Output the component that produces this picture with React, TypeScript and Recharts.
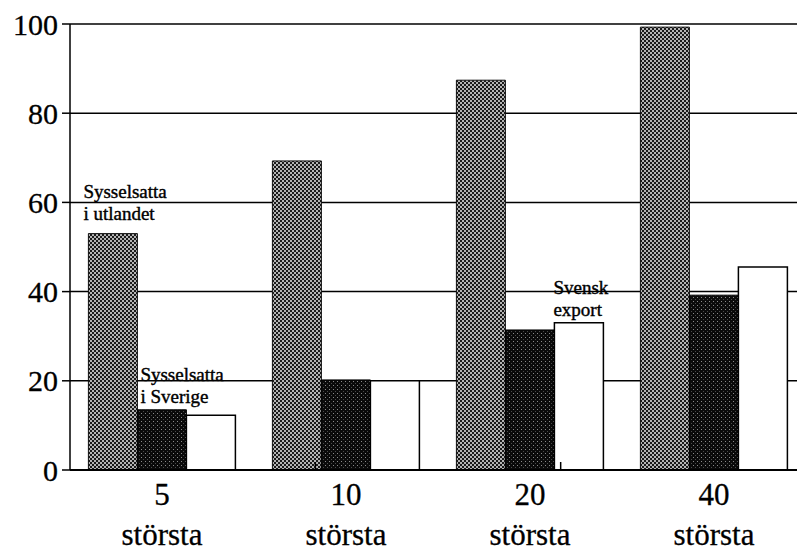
import { BarChart, Bar, XAxis, YAxis, CartesianGrid, LabelList } from "recharts";

// antal största koncerner
const categories = ["5", "10", "20", "40"];
const categorySuffix = "största";

const utlandet = [53, 69.3, 87.4, 99.3];
const sverige = [13.5, 20.2, 31.4, 39.2];
const svenskExport = [12.3, 20, 33, 45.5];

const yTicks = [0, 20, 40, 60, 80, 100];
const edgeTicks = [1, 2, 3];

const noteUtlandet = ["Sysselsatta", "i utlandet"];
const noteSverige = ["Sysselsatta", "i Sverige"];
const noteExport = ["Svensk", "export"];

const data = categories.map((c, i) => ({
  name: c,
  utlandet: utlandet[i],
  sverige: sverige[i],
  export: svenskExport[i],
}));

const FONT = "'Liberation Serif', 'Times New Roman', serif";

function note(lines: string[], atIndex: number, dx: number, dy: number) {
  return (props: any) => {
    if (props.index !== atIndex) return <g />;
    const vb = props.viewBox ?? props;
    const x = Number(vb.x ?? props.x) + dx;
    const y = Number(vb.y ?? props.y) + dy;
    return (
      <text x={x} y={y} fontFamily={FONT} fontSize={19} fill="#000" stroke="#000" strokeWidth={0.4}>
        {lines.map((l, k) => (
          <tspan key={k} x={x} dy={k === 0 ? 0 : 22}>{l}</tspan>
        ))}
      </text>
    );
  };
}

function CategoryTick({ x, y, payload }: any) {
  return (
    <text x={x} y={y} textAnchor="middle" fontFamily={FONT} fontSize={31} fill="#000" stroke="#000" strokeWidth={0.3}>
      <tspan x={x} dy={35}>{payload.value}</tspan>
      <tspan x={x} dy={40}>{categorySuffix}</tspan>
    </text>
  );
}

export default function App() {
  return (
    <div style={{ position: "fixed", left: 0, top: 0, width: 797, height: 551, overflow: "hidden", background: "#fff" }}>
      <BarChart width={830} height={551} data={data}
        margin={{ top: 24, right: 24, bottom: 0, left: 0 }}
        barCategoryGap="10%" barGap={0}>
        <defs>
          <pattern id="dots" width="4" height="4" patternUnits="userSpaceOnUse">
            <rect width="4" height="4" fill="#b4b4b4" />
            <rect x="0" y="0" width="2" height="2" fill="#1a1a1a" />
            <rect x="2" y="2" width="2" height="2" fill="#1a1a1a" />
          </pattern>
          <pattern id="dark" width="4" height="4" patternUnits="userSpaceOnUse">
            <rect width="4" height="4" fill="#0a0a0a" />
            <rect x="1" y="1" width="1" height="1" fill="#8a8a8a" />
            <rect x="3" y="3" width="1" height="1" fill="#4a4a4a" />
          </pattern>
        </defs>
        <CartesianGrid vertical={false} stroke="#000" strokeWidth={1.5} />
        <XAxis xAxisId="edges" type="number" domain={[0, 4]} ticks={edgeTicks}
          allowDataOverflow mirror axisLine={false}
          tickLine={{ stroke: "#000", strokeWidth: 1.5 }} tickSize={8}
          tick={() => <g />} />
        <XAxis dataKey="name" height={81} tickLine={false} tickSize={0} tickMargin={0}
          axisLine={{ stroke: "#000", strokeWidth: 2 }} tick={<CategoryTick />} interval={0} />
        <YAxis width={70} domain={[0, 100]} ticks={yTicks} interval={0}
          axisLine={{ stroke: "#000", strokeWidth: 1.5 }}
          tickLine={{ stroke: "#000", strokeWidth: 1.5 }} tickSize={8} tickMargin={4}
          tick={{ fontSize: 30, fill: "#000", fontFamily: FONT, stroke: "#000", strokeWidth: 0.3 }} />
        <Bar dataKey="utlandet" fill="url(#dots)" stroke="#111" strokeWidth={1} isAnimationActive={false}>
          <LabelList content={note(noteUtlandet, 0, -5, -36)} />
        </Bar>
        <Bar dataKey="sverige" fill="url(#dark)" stroke="#000" strokeWidth={1} isAnimationActive={false}>
          <LabelList content={note(noteSverige, 0, 3, -29)} />
        </Bar>
        <Bar dataKey="export" fill="#fff" stroke="#000" strokeWidth={1.5} isAnimationActive={false}>
          <LabelList content={note(noteExport, 2, -1, -29)} />
        </Bar>
      </BarChart>
    </div>
  );
}
